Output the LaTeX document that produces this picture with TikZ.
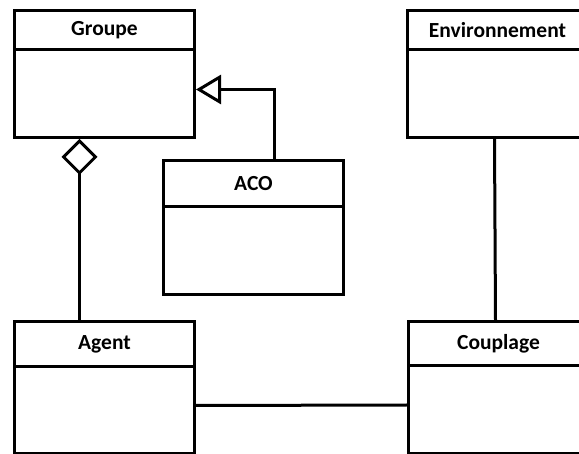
\documentclass[tikz,border=0pt]{standalone}
\usepackage{fontspec}
\setmainfont{Carlito}
\usetikzlibrary{arrows.meta,calc}
\begin{document}
\begin{tikzpicture}[x=1pt,y=-1pt,
  cls/.style={draw, line width=3pt, fill=white, inner sep=0pt, anchor=north west,
    font=\fontsize{21.5}{25}\selectfont\bfseries},
  link/.style={line width=3pt},
  inherit/.style={link, -{Triangle[open, length=25pt, width=29pt, fill=white]}},
  aggreg/.style={link, -{Diamond[open, length=36pt, width=36pt, fill=white]}}]
\useasboundingbox (0,0) rectangle (579,454);
\fill[white] (0,0) rectangle (579,454);
\clip (0,0) rectangle (579,454);

% class boxes: header with name, empty body below
\node[cls, minimum width=180pt, minimum height=38.5pt] (groupeH) at (13,9.5) {Groupe};
\node[cls, minimum width=180pt, minimum height=88pt] (groupeB) at (13,48) {};

\node[cls, minimum width=180pt, minimum height=39pt] (envH) at (406,9) {Environnement};
\node[cls, minimum width=180pt, minimum height=88pt] (envB) at (406,48) {};

\node[cls, minimum width=180pt, minimum height=46pt] (acoH) at (162,159) {ACO};
\node[cls, minimum width=180pt, minimum height=88pt] (acoB) at (162,205) {};

\node[cls, minimum width=180pt, minimum height=45pt] (agentH) at (13,320) {Agent};
\node[cls, minimum width=180pt, minimum height=87pt] (agentB) at (13,365) {};

\node[cls, minimum width=180pt, minimum height=44pt] (coupH) at (407,320) {Couplage};
\node[cls, minimum width=180pt, minimum height=88pt] (coupB) at (407,364) {};

% relations
\draw[inherit] ([xshift=21pt]acoH.north) |- ([yshift=4pt]groupeB.east);
\draw[aggreg] ([xshift=-25pt]agentH.north) -- ([xshift=-25pt]groupeB.south);
\draw[link] ([xshift=-3pt]envB.south) -- ([xshift=-3pt]coupH.north);
\draw[link] ([yshift=4.5pt]agentB.east) -- ([yshift=4.5pt]coupB.west);
\end{tikzpicture}
\end{document}
